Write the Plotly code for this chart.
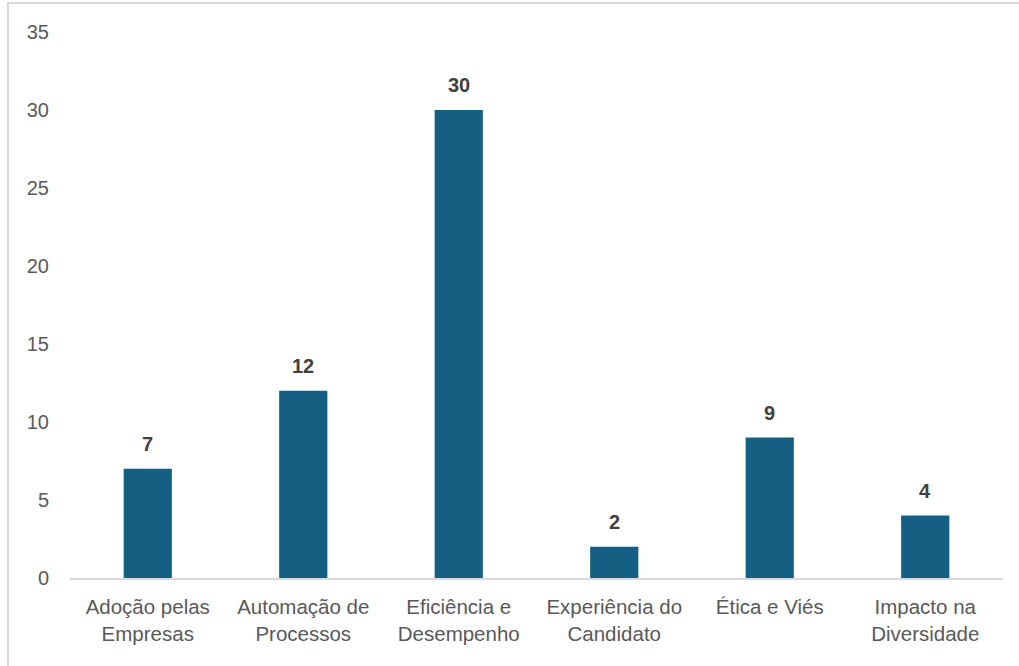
import plotly.graph_objects as go

categories = ["Adoção pelas<br>Empresas", "Automação de<br>Processos", "Eficiência e<br>Desempenho",
              "Experiência do<br>Candidato", "Ética e Viés", "Impacto na<br>Diversidade"]
values = [7, 12, 30, 2, 9, 4]
y_ticks = [0, 5, 10, 15, 20, 25, 30, 35]

W, H = 1019, 666
ml, mr, mt, mb = 70, 16, 32, 88
pw, ph = W - ml - mr, H - mt - mb
FONT = "Liberation Sans, Arial"

fig = go.Figure(go.Bar(
    x=categories, y=values, marker=dict(color="#156082", line=dict(width=0)),
    width=0.31, hoverinfo="skip"))

for c, v in zip(categories, values):
    fig.add_annotation(x=c, y=v, text="<b>%d</b>" % v, showarrow=False,
                       yanchor="bottom", yshift=12,
                       font=dict(family=FONT, size=20, color="#404040"))

x0 = (8 - ml) / pw
x1 = (W + 10 - ml) / pw
y1 = 1 + (mt - 3) / ph
y0 = -(mb + 10) / ph
fig.add_shape(type="rect", xref="paper", yref="paper", x0=x0, x1=x1, y0=y0, y1=y1,
              line=dict(color="#d9d9d9", width=2), fillcolor="rgba(0,0,0,0)", layer="below")

fig.update_layout(
    width=W, height=H, margin=dict(l=ml, r=mr, t=mt, b=mb, pad=0),
    paper_bgcolor="white", plot_bgcolor="white", showlegend=False,
    font=dict(family=FONT, size=20, color="#595959"),
    bargap=0.69,
    xaxis=dict(showgrid=False, showline=True, linecolor="#d9d9d9", linewidth=1.5,
               ticks="", tickfont=dict(size=20.5, color="#595959"), zeroline=False,
               ticklabelstandoff=10, fixedrange=True),
    yaxis=dict(range=[0, 35], tickvals=y_ticks, showgrid=False, showline=False,
               zeroline=False, ticks="", ticklabelstandoff=20,
               tickfont=dict(size=20, color="#595959"), fixedrange=True),
)

fig.write_html("out.html", config={"displayModeBar": False, "staticPlot": True},
               post_script="document.body.style.margin='0';document.body.style.overflow='hidden';")
